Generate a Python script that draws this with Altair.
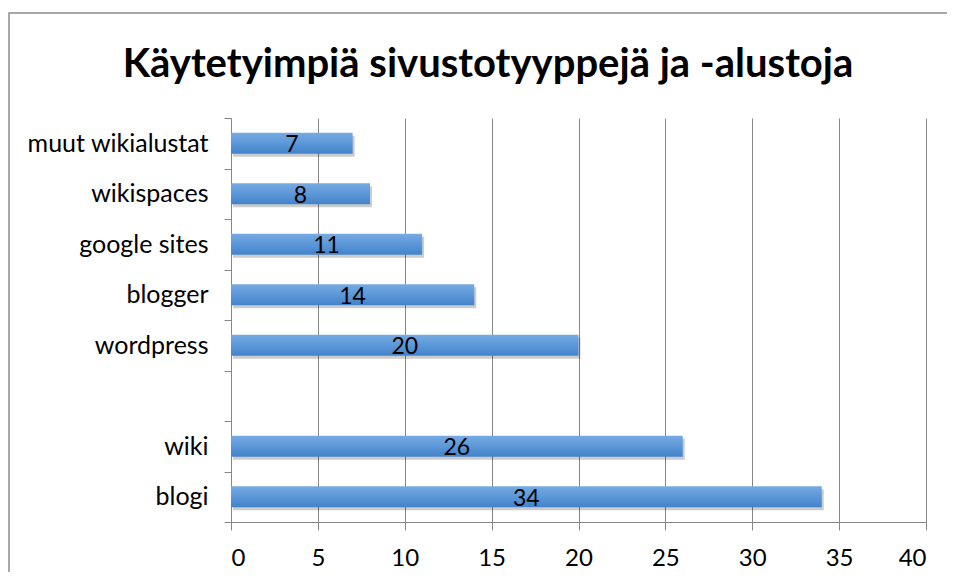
import altair as alt
import pandas as pd

# ---- data ----
categories = ["blogi", "wiki", "wordpress", "blogger", "google sites", "wikispaces", "muut wikialustat"]
values = [34, 26, 20, 14, 11, 8, 7]
axis_order = ["muut wikialustat", "wikispaces", "google sites", "blogger", "wordpress", " ", "wiki", "blogi"]
x_ticks = [0, 5, 10, 15, 20, 25, 30, 35, 40]
chart_title = ["Käytetyimpiä sivustotyyppejä ja -alustoja"]

df = pd.DataFrame({"cat": categories, "val": values})

FONT = "Lato"
GRAY = "#868686"

yenc = alt.Y(
    "cat:N",
    sort=axis_order,
    scale=alt.Scale(domain=axis_order, paddingInner=0, paddingOuter=0),
    axis=alt.Axis(
        title=None, tickBand="extent", grid=False, domainColor=GRAY, tickColor=GRAY,
        tickSize=7, labelPadding=16, labelFont=FONT, labelFontSize=25, labelColor="black",
        labelLimit=400,
    ),
)
xscale = alt.Scale(domain=[0, 40], nice=False)
xenc = alt.X(
    "val:Q",
    scale=xscale,
    axis=alt.Axis(
        title=None, values=x_ticks, grid=True, gridColor=GRAY, domainColor=GRAY,
        tickColor=GRAY, tickSize=8, labelPadding=16, labelFont=FONT, labelFontSize=24,
        labelColor="black",
    ),
)

base = alt.Chart(df)

shadow = base.mark_bar(size=21, color="#000000", opacity=0.2, yOffset=3, xOffset=2).encode(
    x=xenc, y=yenc
)

bars = base.mark_bar(
    size=21,
    color=alt.Gradient(
        gradient="linear",
        stops=[alt.GradientStop(color="#76abe3", offset=0), alt.GradientStop(color="#4283cc", offset=1)],
        x1=0, x2=0, y1=0, y2=1,
    ),
).encode(x=xenc, y=yenc)

labels = base.transform_calculate(half="datum.val / 2").mark_text(
    font=FONT, fontSize=23, color="black", baseline="middle", dy=2
).encode(x=alt.X("half:Q", scale=xscale), y=alt.Y("cat:N", sort=axis_order), text="val:Q")

frame = alt.Chart(pd.DataFrame({"a": [0]})).mark_rect(
    filled=False, stroke="#8c8c8c", strokeWidth=1.5
).encode(x=alt.value(-222), x2=alt.value(760), y=alt.value(-105), y2=alt.value(480))

title = alt.Chart(pd.DataFrame({"t": chart_title})).mark_text(
    font=FONT, fontSize=40, fontWeight="bold", color="black", align="center", baseline="alphabetic"
).encode(text="t:N", x=alt.value(257), y=alt.value(-41))

chart = (
    alt.layer(frame, shadow, bars, labels, title)
    .properties(
        width=695,
        height=404,
        autosize=alt.AutoSizeParams(type="none"),
        padding={"left": 223, "top": 110, "right": 21, "bottom": 50},
    )
    .configure_view(stroke=None)
)

chart.save("out.html", embed_options={"renderer": "svg", "actions": False})
